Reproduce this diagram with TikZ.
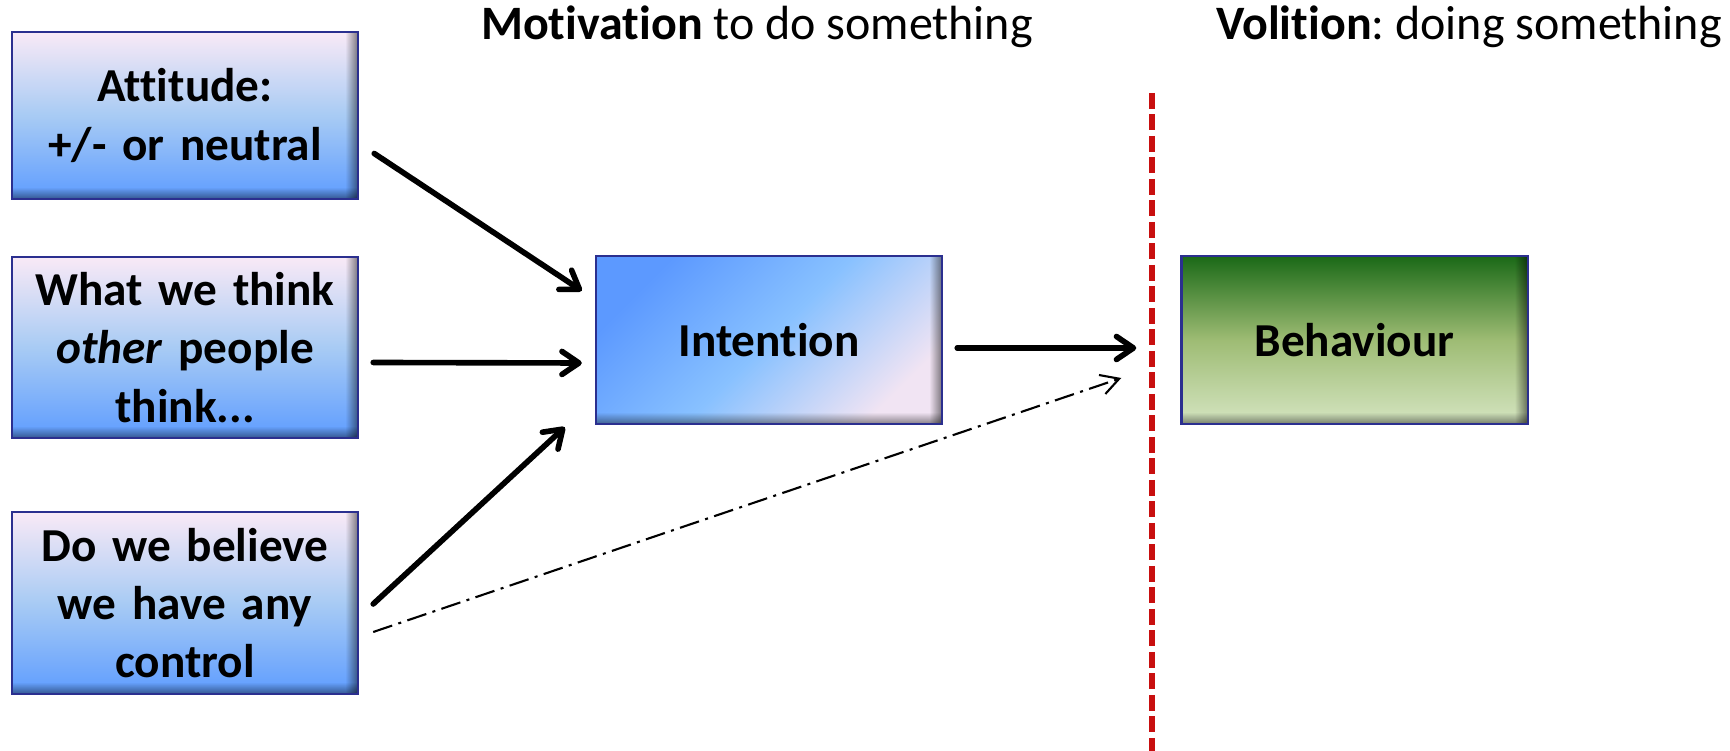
\documentclass[tikz,border=0pt]{standalone}
\usepackage{fontspec}
\setmainfont{Carlito}[Ligatures=CommonOff]
\usetikzlibrary{arrows.meta,calc,fadings}
\frenchspacing

\definecolor{frame}{HTML}{2B2F8F}
\definecolor{skyTop}{HTML}{F8E9F6}
\definecolor{skyMid}{HTML}{A8CBF4}
\definecolor{skyBot}{HTML}{5F9DFF}
\definecolor{intA}{HTML}{5C99FF}
\definecolor{intB}{HTML}{88C1FF}
\definecolor{intC}{HTML}{F1E4F3}
\definecolor{grnTop}{HTML}{1C6A18}
\definecolor{grnMid}{HTML}{9EBC74}
\definecolor{grnBot}{HTML}{D4E4C0}
\definecolor{splitred}{HTML}{C80F0F}

\tikzfading[name=rimright, left color=transparent!100, right color=transparent!0]
\tikzfading[name=rimdown, top color=transparent!100, bottom color=transparent!0]

\newcommand{\bigfont}{\fontsize{13.66pt}{16.6pt}\selectfont}
\newcommand{\boxfont}{\bfseries\fontsize{13.45pt}{16.6pt}\selectfont\spaceskip=0.2em}

% darker rim along the right and lower edge of a box, then its frame again
\newcommand{\rimshade}[1]{
        \fill[black, opacity=0.5, path fading=rimright]
                ($(#1.north east)+(-13,0)$) rectangle (#1.south east);
        \fill[black, opacity=0.45, path fading=rimdown]
                ($(#1.south west)+(0,-12)$) rectangle (#1.south east);
        \draw[frame, line width=0.7pt] (#1.south west) rectangle (#1.north east);
}

\begin{document}
\begin{tikzpicture}[x=0.1mm, y=-0.1mm,
        box/.style={line width=0.7pt, minimum width=34.4mm, text width=33mm,
                align=center, inner sep=0pt, font=\boxfont},
        factor/.style={box, top color=skyTop, bottom color=skyBot, middle color=skyMid},
        push/.style={line width=1.6pt, line cap=round,
                -{Straight Barb[length=1.7mm, width=2.3mm, round]}},
        hint/.style={line width=0.6pt,
                dash pattern=on 2mm off 0.65mm on 0.3mm off 0.65mm,
                -{Straight Barb[length=1.8mm, width=2mm]}},
        splitline/.style={splitred, line width=0.6mm, dash pattern=on 1.6mm off 0.55mm}]
        \useasboundingbox (0,0) rectangle (1730,751);

        \node[anchor=base, font=\bigfont] (motiv) at (757,40) {\textbf{Motivation} to do something};
        \node[anchor=base, font=\bigfont] (volit) at (1469,40) {\textbf{Volition}: doing something};

        \node[factor, minimum height=16.5mm] (att) at (185,115.5) {Attitude:\\+/- or neutral};
        \node[factor, minimum height=17.9mm] (think) at (185,347.5) {What we think\\\textit{other} people\\think...};
        \node[factor, minimum height=18mm] (ctrl) at (185,603) {Do we believe\\we have any\\control};

        \node[box, minimum height=16.6mm, top color=intA, bottom color=intC, middle color=intB,
                shading angle=45] (intent) at (769,340) {Intention};
        \node[box, minimum height=16.6mm, top color=grnTop, bottom color=grnBot,
                middle color=grnMid] (behav) at (1354.5,340) {Behaviour};

        \rimshade{att}
        \rimshade{think}
        \rimshade{ctrl}
        \rimshade{intent}
        \rimshade{behav}

        % boundary between motivation and volition
        \coordinate (cuttop) at (1152,93);
        \coordinate (cutbot) at (1152,751);
        \draw[splitline] (cuttop) -- (cutbot);

        \draw[push] ($(att.east)+(16,38)$) -- ($(intent.north west)+(-14,35)$);
        \draw[push] ($(think.east)+(15,15)$) -- ($(intent.west)+(-14,23)$);
        \draw[push] ($(ctrl.east)+(15,1)$) -- ($(intent.south west)+(-31,3)$);
        \draw[push] ($(intent.east)+(15,8)$) -- ($(behav.west)+(-45,8)$);
        \draw[hint] ($(ctrl.east)+(15,29)$) -- ($(behav.west)+(-60,38)$);
\end{tikzpicture}
\end{document}
